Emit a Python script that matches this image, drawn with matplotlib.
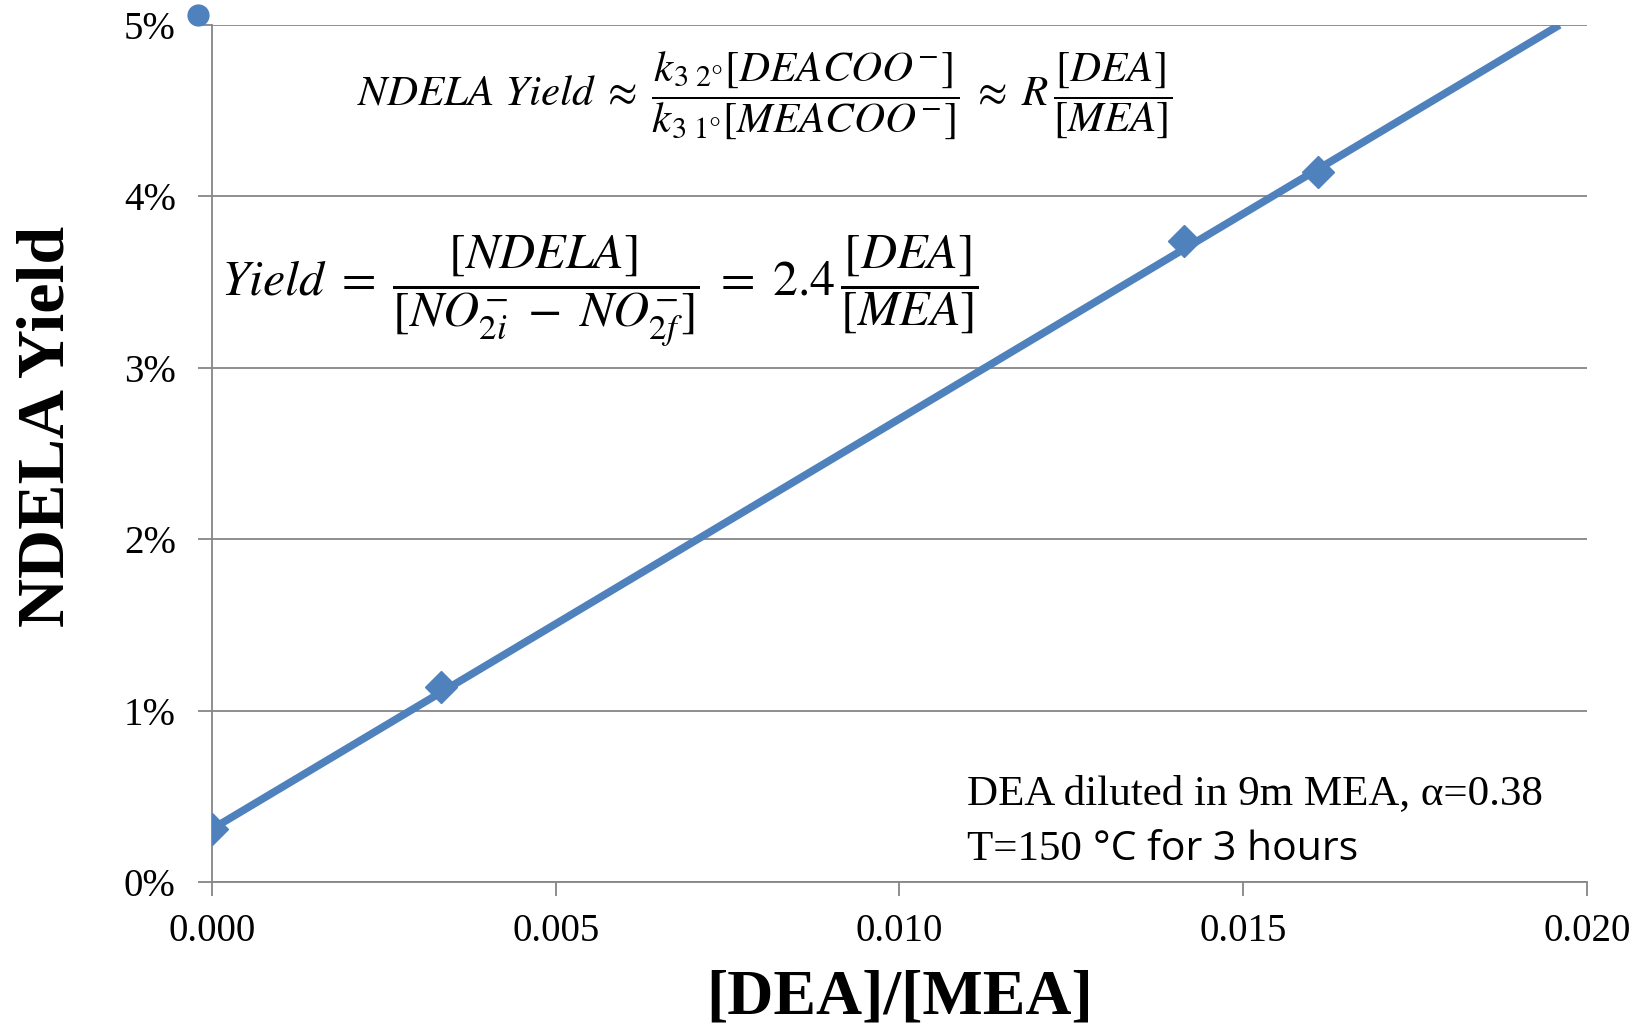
import matplotlib
matplotlib.use("Agg")
import matplotlib.pyplot as plt
from matplotlib.ticker import FuncFormatter

plt.rcParams['mathtext.fontset'] = 'stix'

# measured points
ratio = [0.0, 0.00333, 0.01414, 0.01609]
yield_ = [0.0031, 0.0114, 0.0374, 0.0414]

# linear trendline (Yield = 2.4 [DEA]/[MEA])
trend_x = [0.0, 0.0196]
trend_y = [0.0031, 0.0500]

# stray marker in the corner
dot_x = [-0.0002]
dot_y = [0.0506]

xticks = [0.000, 0.005, 0.010, 0.015, 0.020]
yticks = [0.00, 0.01, 0.02, 0.03, 0.04, 0.05]

blue = '#4F81BD'
grey = '#868686'
serif = 'Liberation Serif'

fig = plt.figure(figsize=(16.48, 10.33), dpi=100)
ax = fig.add_axes([0.1286, 0.146, 0.8344, 0.8298])

ax.plot(trend_x, trend_y, color=blue, lw=5.5, solid_capstyle='butt', zorder=3)
ax.plot(ratio, yield_, 'D', color=blue, ms=16, zorder=4)
ax.plot(dot_x, dot_y, 'o', color=blue, ms=15, clip_on=False, zorder=5)

ax.set_xlim(0, 0.020)
ax.set_ylim(0, 0.05)
ax.set_xticks(xticks)
ax.set_yticks(yticks)
ax.xaxis.set_major_formatter(FuncFormatter(lambda v, p: '%.3f' % v))
ax.yaxis.set_major_formatter(FuncFormatter(lambda v, p: '%d%%' % round(v * 100)))

ax.grid(axis='y', color=grey, lw=1.3)
ax.set_axisbelow(True)
for s in ['top', 'right']:
    ax.spines[s].set_visible(False)
for s in ['left', 'bottom']:
    ax.spines[s].set_color(grey)
    ax.spines[s].set_linewidth(1.3)
ax.tick_params(axis='both', direction='out', length=10, width=1.3, color=grey,
               labelsize=28)
for lab in ax.get_xticklabels() + ax.get_yticklabels():
    lab.set_fontfamily(serif)
ax.tick_params(axis='x', pad=12)
ax.tick_params(axis='y', pad=16)

ax.set_xlabel('[DEA]/[MEA]', fontsize=46, fontweight='bold', family=serif, labelpad=14)
ax.set_ylabel('NDELA Yield', fontsize=49, fontweight='bold', family=serif)
ax.yaxis.set_label_coords(-0.098, 0.532)

fig.text(0.464, 0.908,
         r'$NDELA\ Yield\;\approx\;\dfrac{k_{3\ 2\degree}[DEACOO^{-}]}{k_{3\ 1\degree}[MEACOO^{-}]}\;\approx\;R\,\dfrac{[DEA]}{[MEA]}$',
         fontsize=31, ha='center', va='center')
fig.text(0.364, 0.718,
         r'$Yield\;=\;\dfrac{[NDELA]}{[NO_{2i}^{-}\;-\;NO_{2f}^{-}]}\;=\;2.4\,\dfrac{[DEA]}{[MEA]}$',
         fontsize=36, ha='center', va='center')

fig.text(0.587, 0.232, 'DEA diluted in 9m MEA, \u03b1=0.38', fontsize=31,
         family=serif, ha='left', va='center')
t1 = fig.text(0.587, 0.177, 'T=150 ', fontsize=31, family=serif, ha='left', va='center')
fig.canvas.draw()
bb = t1.get_window_extent()
fig.text(bb.x1 / fig.bbox.width, 0.177, '\u00b0C for 3 hours', fontsize=29.5,
         family='Open Sans', ha='left', va='center')

fig.savefig('out.png', dpi=100)
